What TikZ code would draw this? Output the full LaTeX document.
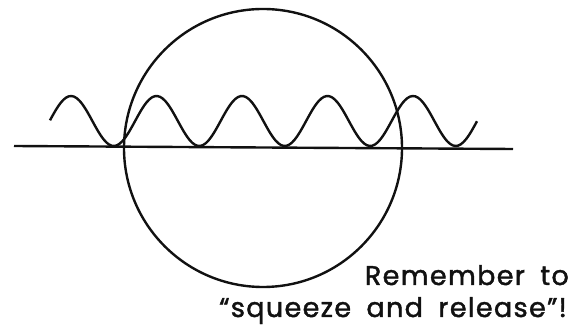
\documentclass[tikz,border=0pt]{standalone}
\usepackage{fontspec}
\setmainfont{Poppins}[LetterSpace=5,WordSpace=1.8,BoldFont={Poppins},BoldFeatures={FakeBold=1.6}]
\usetikzlibrary{positioning}
\definecolor{ink}{HTML}{111111}

\begin{document}
\begin{tikzpicture}[x=1pt,y=-1pt,line width=2.4pt,draw=ink,
  note/.style={text=ink,font=\fontsize{27}{32}\selectfont\bfseries,anchor=base east,inner sep=0pt}]
\useasboundingbox (0,0) rectangle (587,331);
\draw[ink] (263,148) circle[radius=139];
\draw[ink] (14,146) -- (513,149);
\draw[ink,smooth,samples=160,domain=50:477] plot (\x,{121-25*cos(4.2105*(\x-71))});
\node[note] (rem) at (570,285) {Remember to};
\node[note] (sq) at (568,317) {“squeeze and release”!};
\end{tikzpicture}
\end{document}
